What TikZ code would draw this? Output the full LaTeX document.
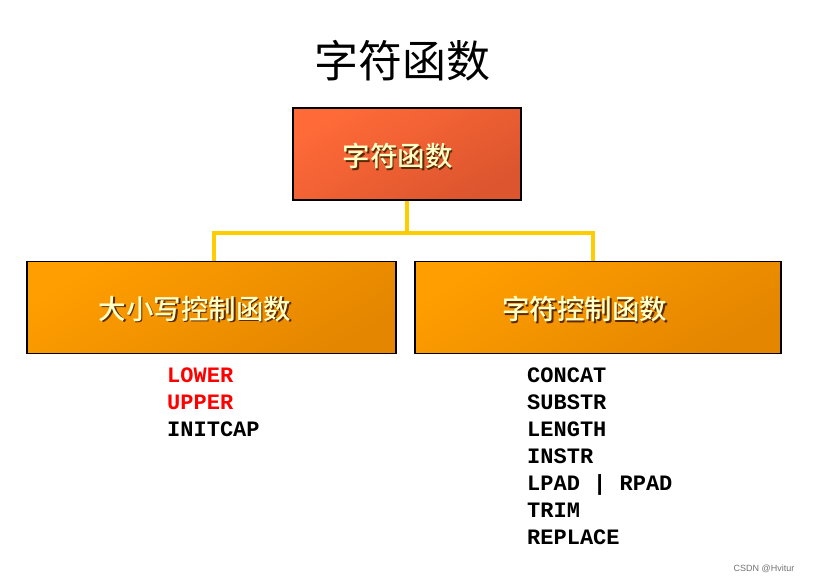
\documentclass[tikz,border=0pt]{standalone}
\usepackage{fontspec}
\newfontfamily\cjk{Noto Sans CJK SC}
\newfontfamily\cjkb{Noto Sans CJK SC Medium}
\setmonofont{Liberation Mono}
\setsansfont{Liberation Sans}
\definecolor{topA}{HTML}{FF6A38}
\definecolor{topB}{HTML}{DC552E}
\definecolor{orA}{HTML}{FF9E00}
\definecolor{orB}{HTML}{E48600}
\definecolor{link}{HTML}{FFCC00}
\definecolor{cream}{HTML}{FFFFC8}
\definecolor{shadowc}{HTML}{5A2A00}
\tikzset{
  box/.style={draw=black, line width=1.2pt, minimum width=#1, minimum height=92pt, inner sep=0pt},
  redbox/.style={box=228pt, top color=topA, bottom color=topB, shading angle=30},
  orbox/.style={box=368pt, top color=orA, bottom color=orB, shading angle=30},
  boxtext/.style={font=\cjkb\fontsize{27.5}{30}\selectfont, text=cream},
  shadowtext/.style={font=\cjkb\fontsize{27.5}{30}\selectfont, text=shadowc},
  conn/.style={draw=link, line width=4.5pt},
  item/.style={font=\ttfamily\bfseries\fontsize{22}{24}\selectfont, anchor=base west, inner sep=0pt},
}
\begin{document}
\begin{tikzpicture}[x=1pt,y=-1pt]
\useasboundingbox (0,0) rectangle (824,583);
\fill[white] (0,0) rectangle (824,583);
\node[font=\cjk\fontsize{44}{48}\selectfont] (title) at (402,61) {字符函数};

\node[redbox] (top) at (407,154) {};
\node[orbox, minimum width=369pt] (left) at (211.5,307.5) {};
\node[orbox, minimum width=366pt] (right) at (598,307.5) {};

\coordinate (hub) at (407,233);
\coordinate (lc) at (214,233);
\coordinate (rc) at (593,233);
\draw[conn] (top.south) -- (hub);
\draw[conn, line cap=rect] (lc) -- (rc);
\draw[conn] (lc) -- (lc |- left.north);
\draw[conn] (rc) -- (rc |- right.north);

\node[shadowtext] (tts) at (399,157.5) {字符函数};
\node[boxtext] (tt) at (397.5,156) {字符函数};
\node[shadowtext] (lts) at (196.5,310.5) {大小写控制函数};
\node[boxtext] (lt) at (195,309) {大小写控制函数};
\node[shadowtext] (rts) at (586,310.5) {字符控制函数};
\node[boxtext] (rt) at (584.5,309) {字符控制函数};

\node[item, text=red] (lower) at (167,382.5) {LOWER};
\node[item, text=red] (upper) at (167,409.5) {UPPER};
\node[item] (initcap) at (167,436.5) {INITCAP};

\node[item] (concat) at (527,382.5) {CONCAT};
\node[item] (substr) at (527,409.5) {SUBSTR};
\node[item] (length) at (527,436.5) {LENGTH};
\node[item] (instr) at (527,463.5) {INSTR};
\node[item] (pad) at (527,490.5) {LPAD | RPAD};
\node[item] (trim) at (527,517.5) {TRIM};
\node[item] (replace) at (527,544.5) {REPLACE};

\node[font=\sffamily\fontsize{9}{11}\selectfont, text=black!55] (wm) at (764,569) {CSDN @Hvitur};
\end{tikzpicture}
\end{document}
